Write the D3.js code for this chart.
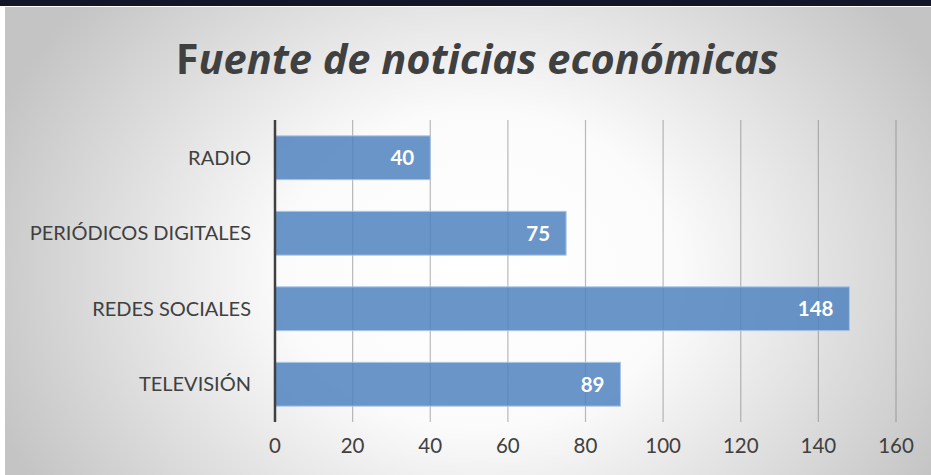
<!DOCTYPE html>
<html><head><meta charset="utf-8">
<script src="https://cdn.jsdelivr.net/npm/d3@7"></script>
<style>html,body{margin:0;padding:0;background:#fff;overflow:hidden}svg{display:block}</style>
</head><body>
<script>
const categories = ["RADIO", "PERIÓDICOS DIGITALES", "REDES SOCIALES", "TELEVISIÓN"];
const values = [40, 75, 148, 89];
const tickValues = [0, 20, 40, 60, 80, 100, 120, 140, 160];
const titleText = "Fuente de noticias económicas";

const W = 931, H = 475;
const svg = d3.select("body").append("svg").attr("width", W).attr("height", H);
const defs = svg.append("defs");
const rg = defs.append("radialGradient").attr("id", "bg")
  .attr("gradientUnits", "userSpaceOnUse")
  .attr("cx", 480).attr("cy", 270).attr("r", 520)
  .attr("gradientTransform", "translate(480,270) scale(1,0.8) translate(-480,-270)");
rg.append("stop").attr("offset", "0").attr("stop-color", "#ffffff");
rg.append("stop").attr("offset", "0.38").attr("stop-color", "#fbfbfb");
rg.append("stop").attr("offset", "1").attr("stop-color", "#c4c4c4");

svg.append("rect").attr("x", 0).attr("y", 0).attr("width", W).attr("height", H).attr("fill", "#fff");
svg.append("rect").attr("x", 5).attr("y", 7).attr("width", W - 5).attr("height", H - 7).attr("fill", "url(#bg)");
svg.append("rect").attr("x", 0).attr("y", 0).attr("width", W).attr("height", 6).attr("fill", "#131629");

const x = d3.scaleLinear().domain([0, 160]).range([275, 896]);
const y = d3.scaleBand().domain(categories).range([120, 422]).paddingInner(0.42).paddingOuter(0.21);

const font = "Lato, 'Open Sans', sans-serif";

// gridlines
svg.append("g").selectAll("line").data(tickValues.slice(1)).join("line")
  .attr("x1", d => x(d)).attr("x2", d => x(d))
  .attr("y1", 120).attr("y2", 422)
  .attr("stroke", "#777").attr("stroke-opacity", 0.5).attr("stroke-width", 1.2);

// bars
svg.append("g").selectAll("rect").data(values).join("rect")
  .attr("x", x(0)).attr("y", (d, i) => y(categories[i]))
  .attr("width", d => x(d) - x(0)).attr("height", y.bandwidth())
  .attr("fill", "#4f83c0").attr("fill-opacity", 0.85)
  .attr("stroke", "#a9c4e6").attr("stroke-width", 1);

// zero axis
svg.append("line").attr("x1", x(0)).attr("x2", x(0)).attr("y1", 120).attr("y2", 422)
  .attr("stroke", "#404040").attr("stroke-width", 2.5);

// data labels
svg.append("g").selectAll("text").data(values).join("text")
  .attr("x", d => x(d) - 16).attr("y", (d, i) => y(categories[i]) + y.bandwidth() / 2)
  .attr("dy", "0.36em").attr("text-anchor", "end")
  .attr("font-family", font).attr("font-weight", 700)
  .attr("font-size", 20.5).attr("fill", "#fff").text(d => d);

// category labels
svg.append("g").selectAll("text").data(categories).join("text")
  .attr("x", 251).attr("y", d => y(d) + y.bandwidth() / 2)
  .attr("dy", "0.36em").attr("text-anchor", "end")
  .attr("font-family", font)
  .attr("font-size", 20).attr("fill", "#404040").text(d => d);

// x tick labels
svg.append("g").selectAll("text").data(tickValues).join("text")
  .attr("x", d => x(d)).attr("y", 446).attr("dy", "0.36em").attr("text-anchor", "middle")
  .attr("font-family", font)
  .attr("font-size", 20.5).attr("fill", "#404040").text(d => d);

// title
const t = svg.append("text").attr("x", 477).attr("y", 74).attr("text-anchor", "middle")
  .attr("font-family", "'Open Sans', Lato, sans-serif").attr("font-weight", 700)
  .attr("font-size", 41.5).attr("fill", "#404040");
t.append("tspan").text(titleText.slice(0, 1));
t.append("tspan").attr("font-style", "italic").text(titleText.slice(1));
</script>
</body></html>
